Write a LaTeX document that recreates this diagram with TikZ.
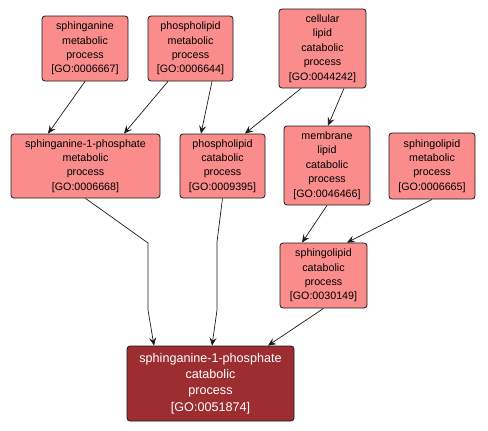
\documentclass[tikz,border=0pt]{standalone}
\usepackage{fontspec}
\setmainfont{Liberation Sans}
\usetikzlibrary{arrows.meta}
\definecolor{lightbox}{HTML}{FA8C8C}
\definecolor{darkbox}{HTML}{9C2D30}
\definecolor{edgecol}{HTML}{1A1A1A}
\begin{document}
\begin{tikzpicture}[x=1pt,y=-1pt,
  gobox/.style={draw=edgecol,line width=0.8pt,fill=lightbox,rounded corners=3pt,
    align=center,inner sep=0pt,font=\fontsize{10.7}{14.4}\selectfont,text=black},
  targetbox/.style={gobox,fill=darkbox,text=white,font=\fontsize{12.6}{16.3}\selectfont},
  link/.style={draw=edgecol,line width=0.7pt,-{Stealth[length=8pt,width=7pt,inset=3pt]}}]
\useasboundingbox (0,0) rectangle (488,431);
\fill[white] (0,0) rectangle (488,431);
\node[gobox,minimum width=86pt,minimum height=65pt] (A) at (85,48.5)
  {sphinganine\\metabolic\\process\\{[GO:0006667]}};
\node[gobox,minimum width=85pt,minimum height=65pt] (B) at (190.5,48.5)
  {phospholipid\\metabolic\\process\\{[GO:0006644]}};
\node[gobox,minimum width=87pt,minimum height=79pt] (C) at (322.5,48.5)
  {cellular\\lipid\\catabolic\\process\\{[GO:0044242]}};
\node[gobox,minimum width=149pt,minimum height=64pt] (D) at (85.5,166)
  {sphinganine-1-phosphate\\metabolic\\process\\{[GO:0006668]}};
\node[gobox,minimum width=85pt,minimum height=64pt] (E) at (222.5,166)
  {phospholipid\\catabolic\\process\\{[GO:0009395]}};
\node[gobox,minimum width=86pt,minimum height=79pt] (F) at (327,165.5)
  {membrane\\lipid\\catabolic\\process\\{[GO:0046466]}};
\node[gobox,minimum width=86pt,minimum height=66pt] (G) at (432,166)
  {sphingolipid\\metabolic\\process\\{[GO:0006665]}};
\node[gobox,minimum width=87pt,minimum height=65pt] (H) at (323.5,275.5)
  {sphingolipid\\catabolic\\process\\{[GO:0030149]}};
\node[targetbox,minimum width=167pt,minimum height=75pt] (I) at (210.5,383.5)
  {sphinganine-1-phosphate\\catabolic\\process\\{[GO:0051874]}};
\coordinate (d1) at (148,243);
\coordinate (d2) at (148,310);
\coordinate (e1) at (217,242);
\coordinate (e2) at (217,310);
\draw[link] (A.south) -- ([xshift=-37.5pt]D.north);
\draw[link] ([xshift=-22.5pt]B.south) -- ([xshift=38.5pt]D.north);
\draw[link] ([xshift=21.5pt]B.south) -- ([xshift=-21.5pt]E.north);
\draw[link] ([xshift=-21.5pt]C.south) -- ([xshift=22.5pt]E.north);
\draw[link] ([xshift=21.5pt]C.south) -- ([xshift=1pt]F.north);
\draw[link] (F.south) -- ([xshift=-21.5pt]H.north);
\draw[link] (G.south) -- ([xshift=23.5pt]H.north);
\draw[link] (D.south) -- (d1) -- (d2) -- ([xshift=-56.5pt]I.north);
\draw[link] (E.south) -- (e1) -- (e2) -- ([xshift=1.5pt]I.north);
\draw[link] (H.south) -- ([xshift=57.5pt]I.north);
\end{tikzpicture}
\end{document}
